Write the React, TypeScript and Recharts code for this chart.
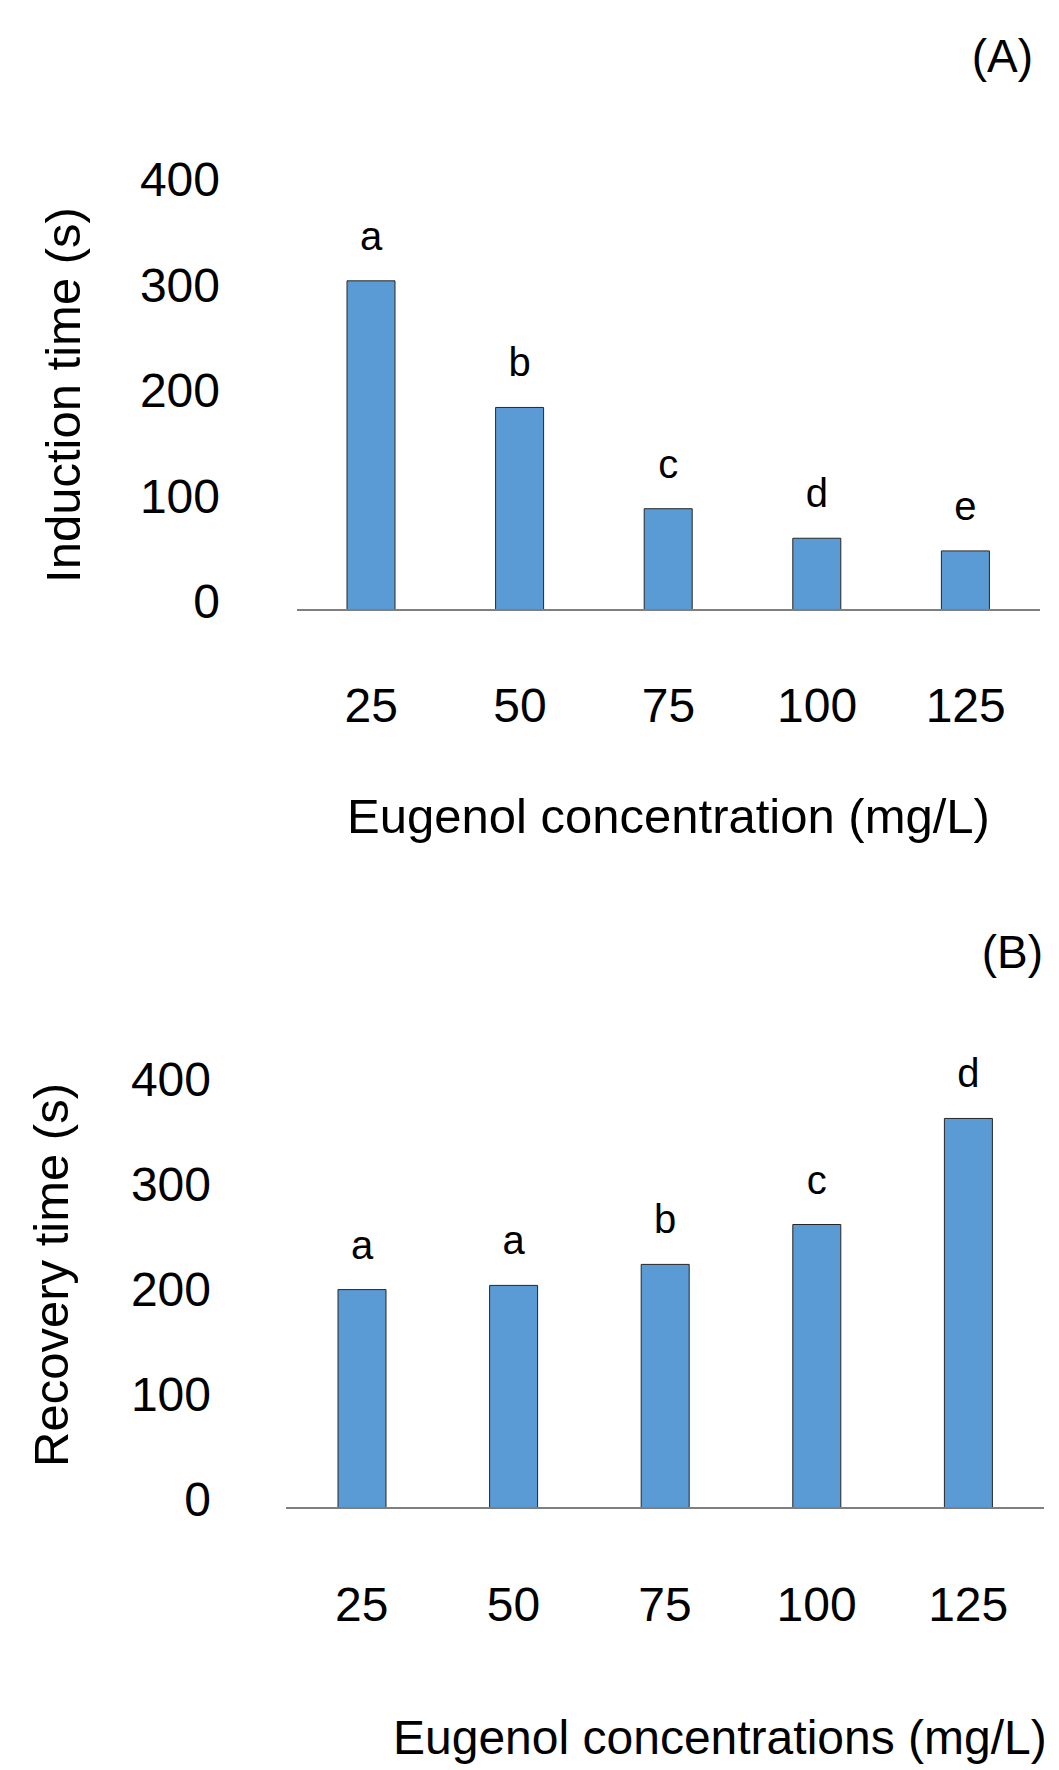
import { BarChart, Bar, XAxis, YAxis, LabelList } from 'recharts';

// values
const concentrations = ['25', '50', '75', '100', '125'];
const inductionTime = [312, 192, 96, 68, 56];
const inductionLetters = ['a', 'b', 'c', 'd', 'e'];
const recoveryTime = [208, 212, 232, 270, 371];
const recoveryLetters = ['a', 'a', 'b', 'c', 'd'];
const yTicks = [0, 100, 200, 300, 400];

const FONT = '"Liberation Sans", Arial, sans-serif';
const BAR_FILL = '#5b9bd5';

const inductionData = concentrations.map((c, i) => ({
  name: c,
  value: inductionTime[i],
  letter: inductionLetters[i],
}));

const recoveryData = concentrations.map((c, i) => ({
  name: c,
  value: recoveryTime[i],
  letter: recoveryLetters[i],
}));

const YTick = ({ x, y, payload }: any) => (
  <text x={x} y={y - 9} dy="0.355em" textAnchor="end" fontSize={48} fill="#000" fontFamily={FONT}>
    {payload.value}
  </text>
);

const xTitle = (text: string, dx: number, dy: number, anchor: string, size = 49) => (props: any) => {
  const vb = props.viewBox || {};
  return (
    <text
      x={(vb.x ?? 0) + dx}
      y={(vb.y ?? 0) + dy}
      textAnchor={anchor}
      fontSize={size}
      fill="#000"
      fontFamily={FONT}
    >
      {text}
    </text>
  );
};

const yTitle = (text: string, cx: number, cy: number) => (props: any) => {
  const vb = props.viewBox || {};
  const x = (vb.x ?? 0) + cx;
  const y = (vb.y ?? 0) + cy;
  return (
    <text
      x={x}
      y={y}
      transform={`rotate(-90 ${x} ${y})`}
      textAnchor="middle"
      fontSize={49}
      fill="#000"
      fontFamily={FONT}
    >
      {text}
    </text>
  );
};

const CHART_H = 885;

const App = () => {
  return (
    <div style={{ position: 'absolute', left: 0, top: 0, width: 1059, height: 1770, background: '#fff' }}>
      <div style={{ position: 'absolute', left: 0, top: 0 }}>
        <BarChart
          width={1059}
          height={CHART_H}
          data={inductionData}
          margin={{ top: 188, right: 19, left: 17, bottom: 0 }}
        >
          <XAxis
            dataKey="name"
            interval={0}
            height={CHART_H - 610}
            tickLine={false}
            tickSize={0}
            tickMargin={78}
            axisLine={{ stroke: '#7f7f7f', strokeWidth: 2 }}
            tick={{ fontSize: 48, fill: '#000', fontFamily: FONT }}
            label={xTitle('Eugenol concentration (mg/L)', 371.5, 223, 'middle')}
          />
          <YAxis
            type="number"
            domain={[0, 400]}
            ticks={yTicks}
            width={280}
            axisLine={false}
            tickLine={false}
            tickSize={0}
            tickMargin={77}
            tick={<YTick />}
            label={yTitle('Induction time (s)', 63, 207)}
          />
          <Bar dataKey="value" barSize={48} fill={BAR_FILL} stroke="#262626" strokeWidth={1} isAnimationActive={false}>
            <LabelList dataKey="letter" position="top" offset={31} fontSize={40} fill="#000" fontFamily={FONT} />
          </Bar>
        </BarChart>
      </div>

      <div style={{ position: 'absolute', left: 0, top: CHART_H }}>
        <BarChart
          width={1059}
          height={1770 - CHART_H}
          data={recoveryData}
          margin={{ top: 1088 - CHART_H, right: 15, left: 6, bottom: 0 }}
        >
          <XAxis
            dataKey="name"
            interval={0}
            height={1770 - 1508}
            tickLine={false}
            tickSize={0}
            tickMargin={79}
            axisLine={{ stroke: '#7f7f7f', strokeWidth: 2 }}
            tick={{ fontSize: 48, fill: '#000', fontFamily: FONT }}
            label={xTitle('Eugenol concentrations (mg/L)', 107, 246, 'start', 48)}
          />
          <YAxis
            type="number"
            domain={[0, 400]}
            ticks={yTicks}
            width={280}
            axisLine={false}
            tickLine={false}
            tickSize={0}
            tickMargin={75}
            tick={<YTick />}
            label={yTitle('Recovery time (s)', 62, 187)}
          />
          <Bar dataKey="value" barSize={48} fill={BAR_FILL} stroke="#262626" strokeWidth={1} isAnimationActive={false}>
            <LabelList dataKey="letter" position="top" offset={31} fontSize={40} fill="#000" fontFamily={FONT} />
          </Bar>
        </BarChart>
      </div>

      <svg width={1059} height={1770} style={{ position: 'absolute', left: 0, top: 0, pointerEvents: 'none' }}>
        <text x={1033} y={72} textAnchor="end" fontSize={46} fill="#000" fontFamily={FONT}>(A)</text>
        <text x={1043} y={968} textAnchor="end" fontSize={46} fill="#000" fontFamily={FONT}>(B)</text>
      </svg>
    </div>
  );
};

export default App;
